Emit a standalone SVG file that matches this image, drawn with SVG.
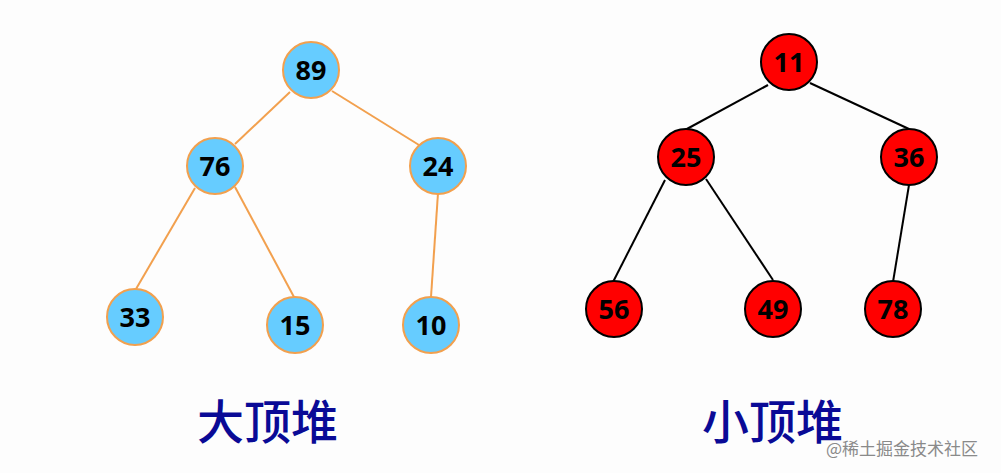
<svg xmlns="http://www.w3.org/2000/svg" width="1001" height="473" viewBox="0 0 1001 473">
<style>
.bg{fill:#fdfdfd}
.eo{stroke:#f2a04e;stroke-width:2;fill:none}
.ek{stroke:#000;stroke-width:2;fill:none}
.nb{fill:#66ccff;stroke:#f2a04e;stroke-width:2}
.nr{fill:#ff0000;stroke:#000;stroke-width:2}
.t{font-family:"Open Sans","Liberation Sans",Arial,sans-serif;font-weight:bold;font-size:27px;fill:#000;text-anchor:middle}
.lbl{font-family:"Noto Sans CJK SC","Noto Sans",sans-serif;font-weight:500;font-size:47px;fill:#0a0a96}
.wm{font-family:"Noto Sans CJK SC","Noto Sans",sans-serif;font-size:17px;fill:#8a8a8a}
</style>
<rect class="bg" x="0" y="0" width="1001" height="473"/>
<g id="connectors">
<line class="eo" x1="290" y1="92" x2="235" y2="144"/>
<line class="eo" x1="332" y1="91" x2="419" y2="145"/>
<line class="eo" x1="195" y1="188" x2="136" y2="289"/>
<line class="eo" x1="235" y1="187" x2="294" y2="297"/>
<line class="eo" x1="438" y1="193" x2="431" y2="297"/>
<line class="ek" x1="768" y1="85" x2="685" y2="130"/>
<line class="ek" x1="810" y1="83" x2="909" y2="129"/>
<line class="ek" x1="665" y1="180" x2="613" y2="282"/>
<line class="ek" x1="706" y1="179" x2="773" y2="280"/>
<line class="ek" x1="909" y1="185" x2="893" y2="282"/>
</g>
<g id="n89"><circle class="nb" cx="311" cy="70" r="28"/><text class="t" x="311" y="80">89</text></g>
<g id="n76"><circle class="nb" cx="215" cy="166" r="28"/><text class="t" x="215" y="176">76</text></g>
<g id="n24"><circle class="nb" cx="438" cy="166" r="28"/><text class="t" x="438" y="176">24</text></g>
<g id="n33"><circle class="nb" cx="135" cy="317" r="28"/><text class="t" x="135" y="327">33</text></g>
<g id="n15"><circle class="nb" cx="295" cy="325" r="28"/><text class="t" x="295" y="335">15</text></g>
<g id="n10"><circle class="nb" cx="431" cy="325" r="28"/><text class="t" x="431" y="335">10</text></g>
<g id="n11"><circle class="nr" cx="789" cy="62" r="28"/><text class="t" x="789" y="72">11</text></g>
<g id="n25"><circle class="nr" cx="686" cy="157" r="28"/><text class="t" x="686" y="167">25</text></g>
<g id="n36"><circle class="nr" cx="909" cy="157" r="28"/><text class="t" x="909" y="167">36</text></g>
<g id="n56"><circle class="nr" cx="614" cy="309" r="28"/><text class="t" x="614" y="319">56</text></g>
<g id="n49"><circle class="nr" cx="773" cy="309" r="28"/><text class="t" x="773" y="319">49</text></g>
<g id="n78"><circle class="nr" cx="893" cy="309" r="28"/><text class="t" x="893" y="319">78</text></g>
<g id="labels">
<text class="lbl" x="197" y="439">大顶堆</text>
<text class="lbl" x="702" y="439">小顶堆</text>
</g>
<text class="wm" x="826" y="455">@稀土掘金技术社区</text>
</svg>
